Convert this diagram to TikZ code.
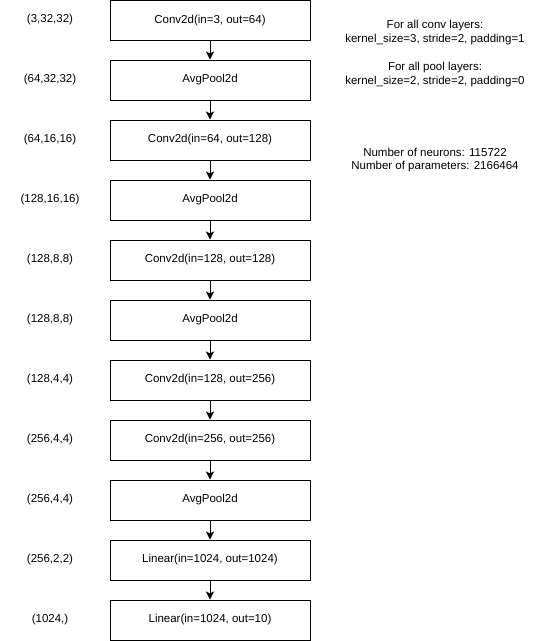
\documentclass[tikz,border=0pt]{standalone}
\usepackage{fontspec}
\setmainfont{Liberation Sans}
\usetikzlibrary{arrows.meta}
\begin{document}
\begin{tikzpicture}[x=1pt,y=-1pt,
  layer/.style={draw=black,line width=1pt,minimum width=200pt,minimum height=40pt,inner sep=0pt,font=\fontsize{11.5}{14}\selectfont},
  dimlabel/.style={font=\fontsize{11.5}{14}\selectfont},
  note/.style={font=\fontsize{11.5}{13.5}\selectfont,align=center},
  conn/.style={line width=1pt,-{Stealth[length=8pt,width=8pt,inset=2pt]}}]
\useasboundingbox (0,0) rectangle (550,641);
\node[layer] (b0) at (210,20.5) {Conv2d(in=3, out=64)};
\node[layer] (b1) at (210,80) {AvgPool2d};
\node[layer] (b2) at (210,140) {Conv2d(in=64, out=128)};
\node[layer] (b3) at (210,200) {AvgPool2d};
\node[layer] (b4) at (210,260) {Conv2d(in=128, out=128)};
\node[layer] (b5) at (210,320) {AvgPool2d};
\node[layer] (b6) at (210,380) {Conv2d(in=128, out=256)};
\node[layer] (b7) at (210,440) {Conv2d(in=256, out=256)};
\node[layer] (b8) at (210,500) {AvgPool2d};
\node[layer] (b9) at (210,560) {Linear(in=1024, out=1024)};
\node[layer] (b10) at (210,620) {Linear(in=1024, out=10)};
\foreach \a/\b in {b0/b1,b1/b2,b2/b3,b3/b4,b4/b5,b5/b6,b6/b7,b7/b8,b8/b9,b9/b10}
  \draw[conn] (\a) -- (\b);
\node[dimlabel] (s0) at (50,20) {(3,32,32)};
\node[dimlabel] (s1) at (50,80) {(64,32,32)};
\node[dimlabel] (s2) at (50,140) {(64,16,16)};
\node[dimlabel] (s3) at (50,200) {(128,16,16)};
\node[dimlabel] (s4) at (50,260) {(128,8,8)};
\node[dimlabel] (s5) at (50,320) {(128,8,8)};
\node[dimlabel] (s6) at (50,380) {(128,4,4)};
\node[dimlabel] (s7) at (50,440) {(256,4,4)};
\node[dimlabel] (s8) at (50,500) {(256,4,4)};
\node[dimlabel] (s9) at (50,560) {(256,2,2)};
\node[dimlabel] (s10) at (50,620) {(1024,)};
\node[note] (n1) at (435,32.5) {For all conv layers:\\kernel\_size=3, stride=2, padding=1};
\node[note] (n2) at (435,74.5) {For all pool layers:\\kernel\_size=2, stride=2, padding=0};
\node[note] (n3) at (435,160) {Number of neurons: 115722\\Number of parameters: 2166464};
\end{tikzpicture}
\end{document}
